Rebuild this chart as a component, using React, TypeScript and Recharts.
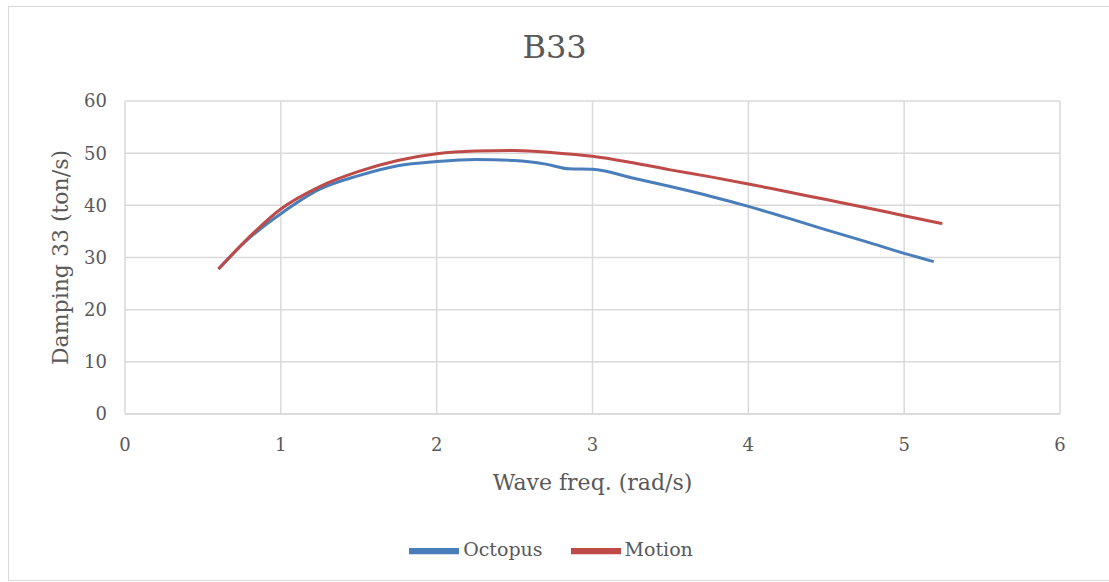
import React from "react"
import { LineChart, Line, XAxis, YAxis, CartesianGrid, Legend } from "recharts"

// wave frequency (rad/s) vs damping B33 (ton/s)
const octopusFreq = [0.6, 0.8, 1.0, 1.25, 1.5, 1.75, 2.0, 2.25, 2.5, 2.7, 2.85, 3.0, 3.25, 3.5, 3.75, 4.0, 4.25, 4.5, 4.75, 5.0, 5.19]
const octopusB33 = [27.8, 33.8, 38.4, 43.1, 45.7, 47.6, 48.4, 48.8, 48.6, 47.9, 47.0, 46.9, 45.3, 43.6, 41.8, 39.8, 37.6, 35.3, 33.1, 30.8, 29.2]

const motionFreq = [0.6, 0.8, 1.0, 1.25, 1.5, 1.75, 2.0, 2.25, 2.5, 2.75, 3.0, 3.25, 3.5, 3.75, 4.0, 4.25, 4.5, 4.75, 5.0, 5.245]
const motionB33 = [27.8, 34.0, 39.3, 43.6, 46.5, 48.6, 49.9, 50.4, 50.5, 50.1, 49.4, 48.2, 46.8, 45.5, 44.1, 42.6, 41.1, 39.6, 38.0, 36.5]

const xTicks = [0, 1, 2, 3, 4, 5, 6]
const yTicks = [0, 10, 20, 30, 40, 50, 60]
const seriesOrder = ["Octopus", "Motion"]

const octopus = octopusFreq.map((x, i) => ({ x, y: octopusB33[i] }))
const motion = motionFreq.map((x, i) => ({ x, y: motionB33[i] }))

const font = "'DejaVu Serif', serif"
const textColor = "#595959"

export default function App() {
  return (
    <div style={{ position: "absolute", left: 0, top: 0, width: 1109, height: 582, background: "#fff" }}>
      <div
        style={{
          position: "absolute",
          left: 8,
          top: 6,
          width: 1110,
          height: 573,
          border: "1.5px solid #d9d9d9",
        }}
      />
      <div
        style={{
          position: "absolute",
          left: 0,
          width: 1109,
          top: 28,
          textAlign: "center",
          fontFamily: font,
          fontSize: 32,
          color: textColor,
        }}
      >
        B33
      </div>
      <LineChart width={1109} height={582} margin={{ top: 101, right: 49, left: 0, bottom: 58 }}>
        <CartesianGrid stroke="#d9d9d9" strokeWidth={1.5} />
        <XAxis
          type="number"
          dataKey="x"
          domain={[0, 6]}
          ticks={xTicks}
          allowDuplicatedCategory={false}
          height={80}
          axisLine={{ stroke: "#d9d9d9", strokeWidth: 1.5 }}
          tickLine={false}
          tickSize={0}
          tickMargin={24}
          tick={{ fill: textColor, fontFamily: font, fontSize: 18 }}
          label={{
            value: "Wave freq. (rad/s)",
            position: "insideBottom",
            offset: 4,
            fill: textColor,
            fontFamily: font,
            fontSize: 22,
          }}
        />
        <YAxis
          type="number"
          domain={[0, 60]}
          ticks={yTicks}
          width={125}
          axisLine={false}
          tickLine={false}
          tickSize={0}
          tickMargin={18}
          tick={{ fill: textColor, fontFamily: font, fontSize: 18 }}
          label={{
            value: "Damping 33 (ton/s)",
            angle: -90,
            position: "center",
            dx: -2,
            fill: textColor,
            fontFamily: font,
            fontSize: 22,
          }}
        />
        <Legend
          verticalAlign="bottom"
          height={30}
          iconType="plainline"
          iconSize={50}
          itemSorter={(item: any) => seriesOrder.indexOf(item.value)}
          wrapperStyle={{ bottom: 26, left: 35, fontFamily: font, fontSize: 19 }}
          formatter={(value) => <span style={{ color: textColor, marginRight: 18 }}>{value}</span>}
        />
        <Line
          data={octopus}
          dataKey="y"
          name="Octopus"
          type="monotone"
          stroke="#4a7ebb"
          strokeWidth={3}
          dot={false}
          isAnimationActive={false}
        />
        <Line
          data={motion}
          dataKey="y"
          name="Motion"
          type="monotone"
          stroke="#be4b48"
          strokeWidth={3}
          dot={false}
          isAnimationActive={false}
        />
      </LineChart>
    </div>
  )
}
